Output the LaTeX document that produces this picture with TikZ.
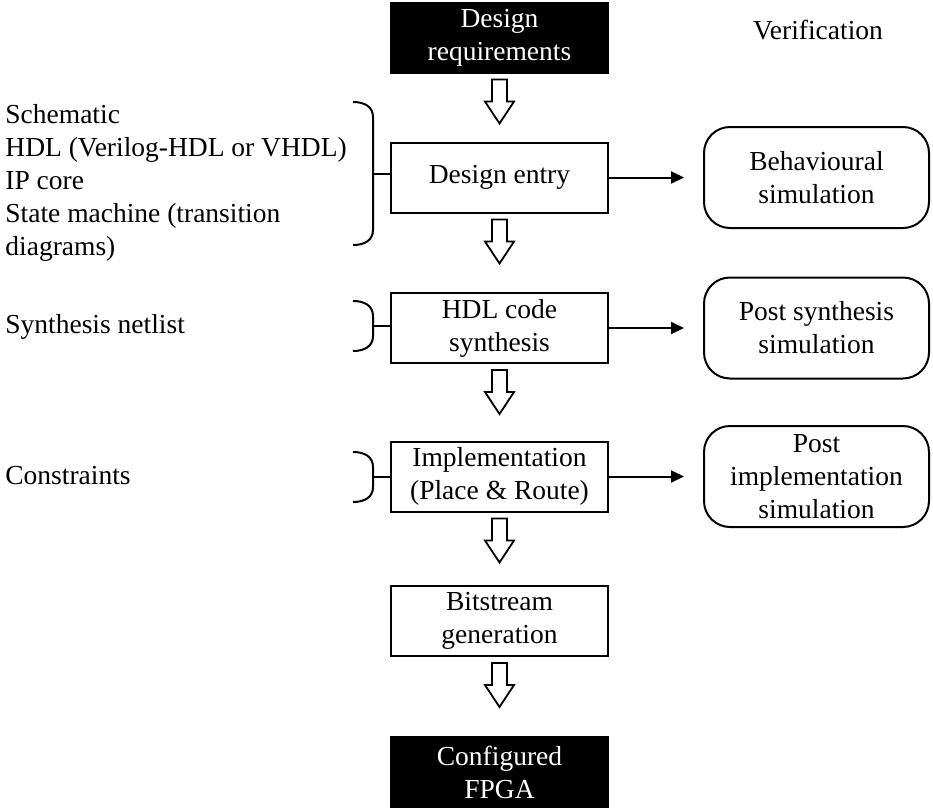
\documentclass[tikz,border=0pt]{standalone}
\usepackage{fontspec}
\setmainfont{Liberation Serif}
\usetikzlibrary{arrows.meta,calc}
\tikzset{stage/.style={draw,line width=1pt,minimum width=108.5pt,minimum height=35pt,align=center,inner sep=0pt},
         term/.style={stage,fill=black,text=white},
         check/.style={draw,line width=1pt,rounded corners=13pt,minimum width=112.5pt,minimum height=50.5pt,align=center,inner sep=0pt},
         flow/.style={-{Triangle[length=6.5pt,width=6pt]},line width=1pt,shorten >=9.5pt},
         hollow/.style={draw,line width=.9pt,fill=white},
         curl/.style={line width=1pt},
         note/.style={anchor=west,align=left,inner sep=0pt}}
\newcommand{\blockdown}[1]{\draw[hollow] ($(#1.south)+(-7.5,6)$) -- ++(0,22) -- ++(-7,0)
  -- ++(14.5,22) -- ++(14.5,-22) -- ++(-7,0) -- ++(0,-22) -- cycle;}
\newcommand{\sidecurl}[2]{\draw[curl] ($(#1)+(-20,-#2)$) .. controls +(12,0) and +(0,-10) .. ($(#1)+(0,15-#2)$)
  -- ($(#1)+(0,#2-15)$) .. controls +(0,10) and +(12,0) .. ($(#1)+(-20,#2)$);}
\begin{document}
\begin{tikzpicture}[x=.5pt,y=-.5pt,every node/.style={font=\fontsize{13.75}{16.5}\selectfont}]
  \useasboundingbox (0,0) rectangle (933,809);
  \node[term]  (req)   at (499.5,37.5) {Design\\requirements};
  \node[stage] (entry) at (499.5,177.5) {Design entry};
  \node[stage] (synth) at (499.5,328) {HDL code\\synthesis};
  \node[stage] (impl)  at (499.5,476.5) {Implementation\\(Place \& Route)};
  \node[stage] (bit)   at (499.5,621) {Bitstream\\generation};
  \node[term]  (fpga)  at (499.5,772) {Configured\\FPGA};
  \blockdown{req} \blockdown{entry} \blockdown{synth} \blockdown{impl} \blockdown{bit}

  \node (verif) at (818,30) {Verification};
  \node[check] (behav) at (816.5,177.5) {Behavioural\\simulation};
  \node[check] (psynth) at (816.5,328) {Post synthesis\\simulation};
  \node[check] (pimpl) at (816.5,476.5) {Post\\implementation\\simulation};
  \draw[flow] (entry) -- (behav);
  \draw[flow] (synth) -- (psynth);
  \draw[flow] (impl) -- (pimpl);

  \node[note] (entries) at (5,182.5) {Schematic\\HDL (Verilog-HDL or VHDL)\\IP core\\State machine (transition\\diagrams)};
  \node[note] (netlist) at (5,327) {Synthesis netlist};
  \node[note] (constr) at (5,476) {Constraints};
  \coordinate (c1) at (373,173.5);
  \coordinate (c2) at (373,326);
  \coordinate (c3) at (373,477);
  \sidecurl{c1}{71.5} \sidecurl{c2}{25} \sidecurl{c3}{25}
  \draw[curl] (c1) -- (c1 -| entry.west);
  \draw[curl] (c2) -- (c2 -| synth.west);
  \draw[curl] (c3) -- (c3 -| impl.west);
\end{tikzpicture}
\end{document}
